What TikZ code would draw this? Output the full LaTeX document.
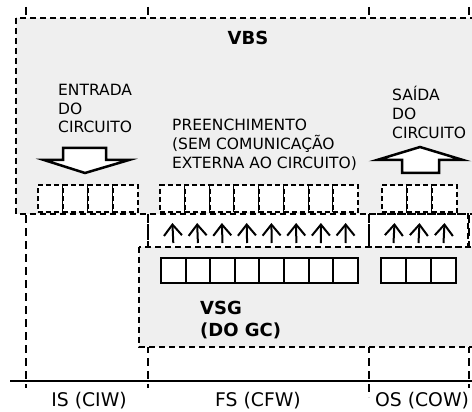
\documentclass[tikz,border=0pt]{standalone}
\usepackage{fontspec}
\setmainfont{DejaVu Sans}
\usetikzlibrary{arrows.meta,calc}
\definecolor{boxgray}{RGB}{239,239,239}
\begin{document}
\begin{tikzpicture}[x=1pt,y=-1pt,
  vline/.style={line width=2.5pt, dash pattern=on 8pt off 5pt},
  regionbox/.style={line width=1.2pt, dash pattern=on 6pt off 4pt},
  dcell/.style={draw, fill=white, line width=2pt, dash pattern=on 5pt off 3pt, minimum height=27pt, inner sep=0pt},
  scell/.style={draw, fill=white, line width=2pt, minimum height=25pt, inner sep=0pt},
  uparrow/.style={line width=2pt, -{Straight Barb[length=11pt,width=18pt]}},
  blockarrow/.style={draw, fill=white, line width=2.5pt, line join=miter},
  lbl/.style={font=\fontsize{15.5}{19}\selectfont, align=left, anchor=base west, inner sep=0pt},
  boldlbl/.style={font=\fontsize{18}{21.5}\selectfont\bfseries, align=left, inner sep=0pt},
  axlbl/.style={font=\fontsize{18.8}{22}\selectfont, anchor=base, inner sep=0pt}]
\useasboundingbox (0,0) rectangle (472,412);
% vertical time lines
\foreach \x/\yb in {26/388,148/388,369/397,469/388}
  \draw[vline] (\x,7) -- (\x,\yb);
% axis
\draw[line width=2pt] (10,381) -- (472,381);
% VBS region
\draw[regionbox, fill=boxgray] (16,18) rectangle (480,214);
% VSG region
\draw[regionbox, fill=boxgray] (139,247) rectangle (480,347);
% arrow boxes
\draw[regionbox] (148,214) rectangle (369,247);
\draw[regionbox] (369,214) rectangle (468,247);
% dashed cells
\foreach \i in {0,...,3}
  \node[dcell, minimum width=25pt] (in\i) at (50+25*\i,198.5) {};
\foreach \i in {0,...,7}
  \node[dcell, minimum width=24.75pt] (fd\i) at (172.4+24.75*\i,198.5) {};
\foreach \i in {0,...,2}
  \node[dcell, minimum width=25pt] (od\i) at (394.5+25*\i,198.5) {};
% solid cells
\foreach \i in {0,...,7}
  \node[scell, minimum width=24.6pt] (fs\i) at (173.3+24.6*\i,270.5) {};
\foreach \i in {0,...,2}
  \node[scell, minimum width=25pt] (os\i) at (393.5+25*\i,270.5) {};
% up arrows
\foreach \i in {0,...,7}
  \draw[uparrow] ($(fs\i.north)+(0,-14)$) -- ($(fd\i.south)+(0,10)$);
\foreach \i in {0,...,2}
  \draw[uparrow] ($(os\i.north)+(0,-14)$) -- ($(od\i.south)+(0,10)$);
% block arrows
\draw[blockarrow] (63,148) -- (106,148) -- (106,160) -- (129,160) -- (85,173) -- (44,160) -- (63,160) -- cycle;
\draw[blockarrow] (402,173) -- (439,173) -- (439,160) -- (463,160) -- (420,147) -- (377,160) -- (402,160) -- cycle;
% labels (base anchor = baseline of last line)
\node[boldlbl, anchor=base] (vbs) at (248,45) {VBS};
\node[lbl] (entrada) at (58,133) {ENTRADA\\DO\\CIRCUITO};
\node[lbl] (preench) at (172,168) {PREENCHIMENTO\\(SEM COMUNICAÇÃO\\EXTERNA AO CIRCUITO)};
\node[lbl] (saida) at (392,139) {SAÍDA\\DO\\CIRCUITO};
\node[boldlbl, anchor=base west] (vsg) at (200,336) {VSG\\(DO GC)};
\node[axlbl] (is) at (89,406) {IS (CIW)};
\node[axlbl] (fs) at (258,406) {FS (CFW)};
\node[axlbl] (os) at (422,406) {OS (COW)};
\end{tikzpicture}
\end{document}
